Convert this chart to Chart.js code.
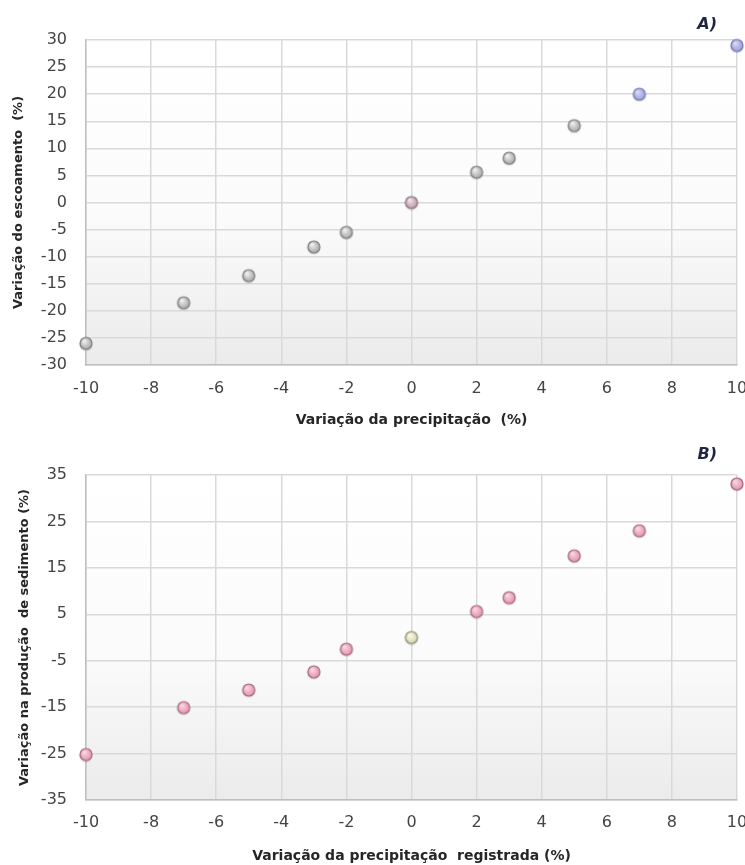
<!DOCTYPE html>
<html>
<head>
<meta charset="utf-8">
<script src="https://cdn.jsdelivr.net/npm/chart.js@4/dist/chart.umd.min.js"></script>
<style>
  html, body { margin: 0; padding: 0; background: #ffffff; }
  #wrap { position: relative; width: 745px; height: 865px; overflow: hidden; }
  .box { position: absolute; left: 0; width: 745px; }
  #boxA { top: 0; height: 432px; }
  #boxB { top: 432px; height: 433px; }
</style>
</head>
<body>
<div id="wrap">
  <div class="box" id="boxA"><canvas id="chartA" width="745" height="432"></canvas></div>
  <div class="box" id="boxB"><canvas id="chartB" width="745" height="433"></canvas></div>
</div>
<script>
// Precipitation change scenarios (%)
const precipChange = [-10, -7, -5, -3, -2, 0, 2, 3, 5, 7, 10];
// A) Runoff change (%)
const runoffChange = [-26, -18.5, -13.5, -8.2, -5.5, 0, 5.6, 8.2, 14.2, 20, 29];
// B) Sediment yield change (%)
const sedimentChange = [-25.2, -15.1, -11.3, -7.4, -2.5, 0, 5.6, 8.6, 17.6, 23, 33.1];

// Axis ticks
const xTicks = [-10, -8, -6, -4, -2, 0, 2, 4, 6, 8, 10];
const yTicksA = [-30, -25, -20, -15, -10, -5, 0, 5, 10, 15, 20, 25, 30];
const yTicksB = [-35, -25, -15, -5, 5, 15, 25, 35];

// Marker colour sets: [highlight, shade, border]
const GRAY = ['#f2f2f2', '#a6a6a6', '#808080'];
const LAVENDER = ['#dcdcf8', '#9a9ad8', '#7a7ab8'];
const ROSE_GRAY = ['#f4e4ec', '#b89aa8', '#8c7080'];
const PINK = ['#fbd8e4', '#e294b0', '#a86a82'];
const PALE = ['#fbfbe6', '#d6d6b0', '#8e8e6e'];

const markerColorsA = [GRAY, GRAY, GRAY, GRAY, GRAY, ROSE_GRAY, GRAY, GRAY, GRAY, LAVENDER, LAVENDER];
const markerColorsB = [PINK, PINK, PINK, PINK, PINK, PALE, PINK, PINK, PINK, PINK, PINK];

// Shaded round marker rendered once per colour set
const markerCache = new Map();
function marker(c) {
  const key = c.join();
  if (markerCache.has(key)) return markerCache.get(key);
  const s = 16, r = 6;
  const cv = document.createElement('canvas');
  cv.width = s; cv.height = s;
  const g = cv.getContext('2d');
  const cx = s / 2, cy = s / 2;
  g.shadowColor = 'rgba(0,0,0,0.25)';
  g.shadowBlur = 2;
  g.shadowOffsetY = 1;
  const grad = g.createRadialGradient(cx - 2, cy - 2.5, 0.5, cx, cy, r);
  grad.addColorStop(0, c[0]);
  grad.addColorStop(1, c[1]);
  g.beginPath();
  g.arc(cx, cy, r, 0, Math.PI * 2);
  g.fillStyle = grad;
  g.fill();
  g.shadowColor = 'transparent';
  g.lineWidth = 1.2;
  g.strokeStyle = c[2];
  g.stroke();
  markerCache.set(key, cv);
  return cv;
}

// Soft white-to-grey fill behind the plot area and a corner label
const plotBackground = {
  id: 'plotBackground',
  beforeDraw(chart) {
    const { ctx, chartArea: a } = chart;
    const grad = ctx.createLinearGradient(0, a.top, 0, a.bottom);
    grad.addColorStop(0, '#ffffff');
    grad.addColorStop(0.55, '#fbfbfb');
    grad.addColorStop(1, '#ebebeb');
    ctx.save();
    ctx.fillStyle = grad;
    ctx.fillRect(a.left, a.top, a.right - a.left, a.bottom - a.top);
    ctx.restore();
  }
};
const panelLabel = {
  id: 'panelLabel',
  afterDraw(chart, args, opts) {
    const { ctx, chartArea: a } = chart;
    ctx.save();
    ctx.font = 'italic bold 16px "DejaVu Sans", sans-serif';
    ctx.fillStyle = '#1f2740';
    ctx.textAlign = 'right';
    ctx.textBaseline = 'middle';
    ctx.fillText(opts.text, a.right - 20, opts.y);
    ctx.restore();
  }
};

const FONT = '"DejaVu Sans", sans-serif';

function buildChart(id, opts) {
  const points = precipChange.map((x, i) => ({ x, y: opts.values[i] }));
  return new Chart(document.getElementById(id), {
    type: 'scatter',
    data: {
      datasets: [{
        data: points,
        pointStyle: opts.colors.map(marker),
        pointRadius: 6,
        clip: false
      }]
    },
    options: {
      responsive: false,
      animation: false,
      layout: { padding: { top: opts.top, right: 8, left: 0, bottom: 0 } },
      plugins: {
        legend: { display: false },
        tooltip: { enabled: false },
        panelLabel: { text: opts.label, y: opts.labelY }
      },
      scales: {
        x: {
          type: 'linear',
          min: -10, max: 10,
          afterBuildTicks: s => { s.ticks = xTicks.map(v => ({ value: v })); },
          afterFit: s => { s.height = opts.xHeight; s.paddingLeft = 0; s.paddingRight = 0; },
          grid: { color: '#d9d9d9', lineWidth: 1.5, drawTicks: false },
          border: { color: '#bfbfbf', width: 1.5 },
          ticks: { color: '#444444', font: { family: FONT, size: 16 }, padding: opts.xTickPad, maxRotation: 0 },
          title: {
            display: true, text: opts.xTitle, color: '#262626',
            font: { family: FONT, size: 14, weight: 'bold' },
            padding: { top: 0, bottom: opts.xTitlePad }
          }
        },
        y: {
          type: 'linear',
          min: opts.yTicks[0], max: opts.yTicks[opts.yTicks.length - 1],
          afterBuildTicks: s => { s.ticks = opts.yTicks.map(v => ({ value: v })); },
          afterFit: s => { s.width = 86; s.paddingTop = 0; s.paddingBottom = 0; },
          grid: { color: '#d9d9d9', lineWidth: 1.5, drawTicks: false },
          border: { color: '#bfbfbf', width: 1.5 },
          ticks: { color: '#444444', font: { family: FONT, size: 16 }, padding: 19 },
          title: {
            display: true, text: opts.yTitle, color: '#262626',
            font: { family: FONT, size: 13, weight: 'bold' },
            padding: { top: opts.yTitlePad, bottom: 0 }
          }
        }
      }
    },
    plugins: [plotBackground, panelLabel]
  });
}

buildChart('chartA', {
  values: runoffChange,
  colors: markerColorsA,
  yTicks: yTicksA,
  top: 40, xHeight: 67, xTickPad: 14, xTitlePad: 3.6, yTitlePad: 11.2,
  label: 'A)', labelY: 25,
  xTitle: 'Variação da precipitação  (%)',
  yTitle: 'Variação do escoamento  (%)'
});

buildChart('chartB', {
  values: sedimentChange,
  colors: markerColorsB,
  yTicks: yTicksB,
  top: 43, xHeight: 65, xTickPad: 13, xTitlePad: 0, yTitlePad: 16.7,
  label: 'B)', labelY: 23,
  xTitle: 'Variação da precipitação  registrada (%)',
  yTitle: 'Variação na produção  de sedimento (%)'
});
</script>
</body>
</html>
